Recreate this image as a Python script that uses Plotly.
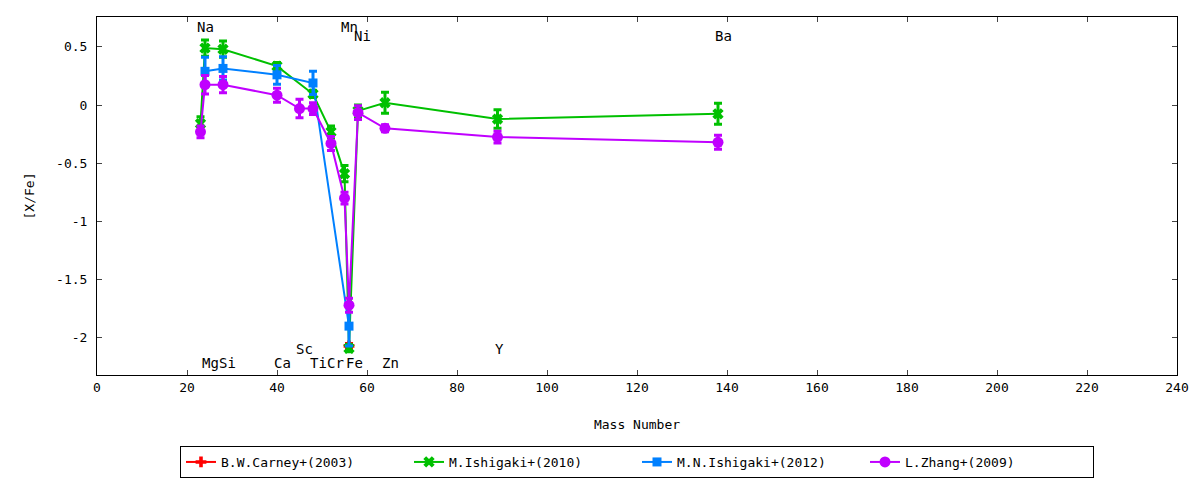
import plotly.graph_objects as go

# mass numbers used on the x axis
carney_mass = [56]
carney_val = [-2.07]
carney_err = [0.02]

ishigaki10_mass = [23, 24, 28, 40, 48, 52, 55, 56, 58, 64, 89, 138]
ishigaki10_val = [-0.16, 0.49, 0.48, 0.335, 0.095, -0.23, -0.59, -2.09, -0.05, 0.02, -0.12, -0.075]
ishigaki10_err = [0.06, 0.07, 0.07, 0.03, 0.03, 0.05, 0.07, 0.03, 0.05, 0.09, 0.08, 0.09]

ishigaki12_mass = [24, 28, 40, 48, 56]
ishigaki12_val = [0.29, 0.315, 0.26, 0.19, -1.9]
ishigaki12_err = [0.12, 0.1, 0.08, 0.1, 0.17]

zhang_mass = [23, 24, 28, 40, 45, 48, 52, 55, 56, 58, 64, 89, 138]
zhang_val = [-0.23, 0.175, 0.175, 0.085, -0.03, -0.03, -0.33, -0.8, -1.72, -0.065, -0.2, -0.275, -0.32]
zhang_err = [0.05, 0.08, 0.07, 0.06, 0.08, 0.05, 0.06, 0.05, 0.06, 0.06, 0.03, 0.05, 0.06]

# element name labels
elem_names = ["Na", "Mn", "Ni", "Ba", "Mg", "Si", "Ca", "Sc", "Ti", "Cr", "Fe", "Zn", "Y"]
elem_x = [24.0, 56.0, 59.1, 139.2, 25.2, 29.0, 41.2, 46.0, 49.3, 53.0, 57.3, 65.2, 89.4]
elem_y = [0.67, 0.67, 0.59, 0.59, -2.215, -2.215, -2.215, -2.10, -2.215, -2.215, -2.215, -2.215, -2.10]

xticks = list(range(0, 241, 20))
yticks = [0.5, 0, -0.5, -1, -1.5, -2]
yticktext = ["0.5", "0", "-0.5", "-1", "-1.5", "-2"]

FONT = "DejaVu Sans Mono"

series = [
    ("B.W.Carney+(2003)", carney_mass, carney_val, carney_err, "#ff0000", "cross", 9),
    ("M.Ishigaki+(2010)", ishigaki10_mass, ishigaki10_val, ishigaki10_err, "#00c000", "x", 10),
    ("M.N.Ishigaki+(2012)", ishigaki12_mass, ishigaki12_val, ishigaki12_err, "#0080ff", "square", 9),
    ("L.Zhang+(2009)", zhang_mass, zhang_val, zhang_err, "#c000ff", "circle", 11),
]

fig = go.Figure()
for name, xs, ys, es, col, sym, sz in series:
    fig.add_trace(go.Scatter(
        x=xs, y=ys, name=name, mode="lines+markers",
        line=dict(color=col, width=2),
        marker=dict(color=col, symbol=sym, size=sz, line=dict(width=0)),
        error_y=dict(type="data", array=es, visible=True, color=col, thickness=3, width=4),
    ))

for t, x, y in zip(elem_names, elem_x, elem_y):
    fig.add_annotation(x=x, y=y, xref="x", yref="y", text=t, showarrow=False,
                       font=dict(family=FONT, size=14, color="black"))

# page body has an 8px margin, so the figure is sized to fit inside the window
fig.update_layout(
    width=1192, height=472,
    margin=dict(l=89, r=23, t=9, b=105, autoexpand=False),
    paper_bgcolor="white", plot_bgcolor="white",
    font=dict(family=FONT, size=13, color="black"),
    showlegend=True,
    legend=dict(orientation="h", x=0.5, xanchor="center", y=-0.243, yanchor="middle",
                bordercolor="black", borderwidth=1, entrywidth=183,
                font=dict(family=FONT, size=13)),
)
fig.update_xaxes(range=[0, 240], tickvals=xticks, ticks="inside", ticklen=5,
                 showline=True, linecolor="black", linewidth=1, mirror="ticks",
                 showgrid=False, zeroline=False, automargin=False,
                 title=dict(text="Mass Number", standoff=26, font=dict(size=13)))
fig.update_yaxes(range=[-2.32, 0.757], tickvals=yticks, ticktext=yticktext,
                 ticks="inside", ticklen=5,
                 showline=True, linecolor="black", linewidth=1, mirror="ticks",
                 showgrid=False, zeroline=False, ticklabelstandoff=6, automargin=False,
                 title=dict(text="[X/Fe]", standoff=18, font=dict(size=13)))

fig.write_html("out.html")
